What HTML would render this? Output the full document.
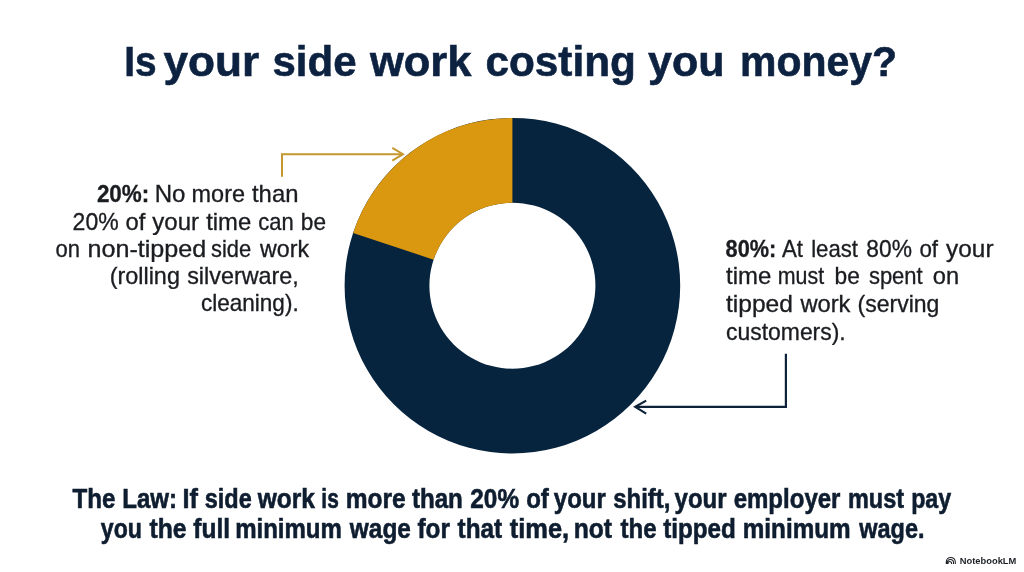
<!DOCTYPE html>
<html>
<head>
<meta charset="utf-8">
<style>
html,body{margin:0;padding:0;background:#fff;}
body{width:1024px;height:572px;overflow:hidden;font-family:"Liberation Sans",sans-serif;}
svg{display:block;}
text{font-family:"Liberation Sans",sans-serif;}
.t{fill:#0c2240;font-weight:700;stroke:#0c2240;stroke-width:0.6px;}
.l{fill:#1a1c20;stroke:#1a1c20;stroke-width:0.32px;}
.b{fill:#0e1d2f;font-weight:700;stroke:#0e1d2f;stroke-width:0.6px;}
.n{fill:#1c1f24;font-weight:700;}
</style>
</head>
<body>
<svg width="1024" height="572" viewBox="0 0 1024 572">
<defs><filter id="g" x="0" y="0" width="1024" height="572" filterUnits="userSpaceOnUse"><feOffset dx="0" dy="0"/></filter></defs>
<rect width="1024" height="572" fill="#ffffff"/>
<!-- donut -->
<path fill-rule="evenodd" d="M512.4 117.89999999999998 A167.8 167.8 0 1 1 512.39 117.89999999999998 Z M512.4 202.7 A83.0 83.0 0 1 0 512.41 202.7 Z" fill="#07243f"/>
<path d="M512.4 117.89999999999998 A167.8 167.8 0 0 0 353.09 233.01 L433.60 259.64 A83.0 83.0 0 0 1 512.4 202.7 Z" fill="#d9980f"/>
<!-- arrows -->
<path d="M282 176.7 V154.2 H402" fill="none" stroke="#c5982f" stroke-width="2"/>
<path d="M392.3 147.9 L403 154.2 L392.3 160.6" fill="none" stroke="#c5982f" stroke-width="2"/>
<path d="M785.9 353.8 V406.9 H636" fill="none" stroke="#0e2238" stroke-width="2.2"/>
<path d="M646.2 400.6 L635.2 406.9 L646.2 413.6" fill="none" stroke="#0e2238" stroke-width="2.2"/>
<!-- NotebookLM icon -->
<path d="M946.3 564.1 V561.9 A4.5 4.5 0 0 1 955.3 561.9 V564.1 M947.2 564.1 V562.6 A3.15 3.15 0 0 1 953.5 562.6 V564.1 M948 564.1 V563.3 A1.8 1.8 0 0 1 951.6 563.3 V564.1" fill="none" stroke="#1c1f24" stroke-width="1.05"/>
<g class="t" font-size="43.3" filter="url(#g)">
<text x="124.21" y="75.7" textLength="32.36" lengthAdjust="spacingAndGlyphs">Is</text>
<text x="163.50" y="75.7" textLength="95.75" lengthAdjust="spacingAndGlyphs">your</text>
<text x="272.53" y="75.7" textLength="84.02" lengthAdjust="spacingAndGlyphs">side</text>
<text x="369.91" y="75.7" textLength="101.57" lengthAdjust="spacingAndGlyphs">work</text>
<text x="485.42" y="75.7" textLength="150.57" lengthAdjust="spacingAndGlyphs">costing</text>
<text x="648.00" y="75.7" textLength="76.53" lengthAdjust="spacingAndGlyphs">you</text>
<text x="740.11" y="75.7" textLength="157.01" lengthAdjust="spacingAndGlyphs">money?</text>
</g>
<g class="l" font-size="23.2" filter="url(#g)">
<text x="96.90" y="202.3" textLength="52.37" lengthAdjust="spacingAndGlyphs" font-weight="700">20%:</text>
<text x="154.76" y="202.3" textLength="30.77" lengthAdjust="spacingAndGlyphs">No</text>
<text x="191.59" y="202.3" textLength="53.42" lengthAdjust="spacingAndGlyphs">more</text>
<text x="252.00" y="202.3" textLength="46.42" lengthAdjust="spacingAndGlyphs">than</text>
</g>
<g class="l" font-size="23.2" filter="url(#g)">
<text x="72.61" y="229.6" textLength="46.00" lengthAdjust="spacingAndGlyphs">20%</text>
<text x="125.60" y="229.6" textLength="19.83" lengthAdjust="spacingAndGlyphs">of</text>
<text x="152.30" y="229.6" textLength="46.71" lengthAdjust="spacingAndGlyphs">your</text>
<text x="206.20" y="229.6" textLength="45.02" lengthAdjust="spacingAndGlyphs">time</text>
<text x="258.20" y="229.6" textLength="35.45" lengthAdjust="spacingAndGlyphs">can</text>
<text x="300.82" y="229.6" textLength="25.15" lengthAdjust="spacingAndGlyphs">be</text>
</g>
<g class="l" font-size="23.2" filter="url(#g)">
<text x="55.50" y="256.5" textLength="24.45" lengthAdjust="spacingAndGlyphs">on</text>
<text x="87.52" y="256.5" textLength="118.75" lengthAdjust="spacingAndGlyphs">non-tipped</text>
<text x="211.00" y="256.5" textLength="40.15" lengthAdjust="spacingAndGlyphs">side</text>
<text x="260.00" y="256.5" textLength="48.99" lengthAdjust="spacingAndGlyphs">work</text>
</g>
<g class="l" font-size="23.2" filter="url(#g)">
<text x="109.69" y="283.6" textLength="70.21" lengthAdjust="spacingAndGlyphs">(rolling</text>
<text x="187.20" y="283.6" textLength="111.55" lengthAdjust="spacingAndGlyphs">silverware,</text>
</g>
<g class="l" font-size="23.2" filter="url(#g)">
<text x="200.90" y="310.9" textLength="97.80" lengthAdjust="spacingAndGlyphs">cleaning).</text>
</g>
<g class="l" font-size="23.2" filter="url(#g)">
<text x="725.60" y="256.8" textLength="50.71" lengthAdjust="spacingAndGlyphs" font-weight="700">80%:</text>
<text x="781.90" y="256.8" textLength="21.06" lengthAdjust="spacingAndGlyphs">At</text>
<text x="811.14" y="256.8" textLength="46.82" lengthAdjust="spacingAndGlyphs">least</text>
<text x="866.32" y="256.8" textLength="45.59" lengthAdjust="spacingAndGlyphs">80%</text>
<text x="919.40" y="256.8" textLength="18.66" lengthAdjust="spacingAndGlyphs">of</text>
<text x="946.10" y="256.8" textLength="47.41" lengthAdjust="spacingAndGlyphs">your</text>
</g>
<g class="l" font-size="23.2" filter="url(#g)">
<text x="726.00" y="284.3" textLength="45.22" lengthAdjust="spacingAndGlyphs">time</text>
<text x="777.78" y="284.3" textLength="46.31" lengthAdjust="spacingAndGlyphs">must</text>
<text x="834.62" y="284.3" textLength="25.26" lengthAdjust="spacingAndGlyphs">be</text>
<text x="868.90" y="284.3" textLength="53.77" lengthAdjust="spacingAndGlyphs">spent</text>
<text x="932.80" y="284.3" textLength="26.31" lengthAdjust="spacingAndGlyphs">on</text>
</g>
<g class="l" font-size="23.2" filter="url(#g)">
<text x="726.00" y="311.8" textLength="66.95" lengthAdjust="spacingAndGlyphs">tipped</text>
<text x="800.42" y="311.8" textLength="50.06" lengthAdjust="spacingAndGlyphs">work</text>
<text x="857.51" y="311.8" textLength="81.88" lengthAdjust="spacingAndGlyphs">(serving</text>
</g>
<g class="l" font-size="23.2" filter="url(#g)">
<text x="726.00" y="339.5" textLength="119.73" lengthAdjust="spacingAndGlyphs">customers).</text>
</g>
<g class="b" font-size="28.2" filter="url(#g)">
<text x="72.50" y="507.7" textLength="42.98" lengthAdjust="spacingAndGlyphs">The</text>
<text x="122.25" y="507.7" textLength="54.79" lengthAdjust="spacingAndGlyphs">Law:</text>
<text x="182.50" y="507.7" textLength="15.45" lengthAdjust="spacingAndGlyphs">If</text>
<text x="204.80" y="507.7" textLength="46.96" lengthAdjust="spacingAndGlyphs">side</text>
<text x="257.77" y="507.7" textLength="57.25" lengthAdjust="spacingAndGlyphs">work</text>
<text x="321.36" y="507.7" textLength="17.44" lengthAdjust="spacingAndGlyphs">is</text>
<text x="345.63" y="507.7" textLength="59.96" lengthAdjust="spacingAndGlyphs">more</text>
<text x="411.90" y="507.7" textLength="50.94" lengthAdjust="spacingAndGlyphs">than</text>
<text x="470.30" y="507.7" textLength="48.75" lengthAdjust="spacingAndGlyphs">20%</text>
<text x="526.15" y="507.7" textLength="22.73" lengthAdjust="spacingAndGlyphs">of</text>
<text x="553.80" y="507.7" textLength="51.97" lengthAdjust="spacingAndGlyphs">your</text>
<text x="613.30" y="507.7" textLength="57.05" lengthAdjust="spacingAndGlyphs">shift,</text>
<text x="674.60" y="507.7" textLength="51.97" lengthAdjust="spacingAndGlyphs">your</text>
<text x="733.65" y="507.7" textLength="106.83" lengthAdjust="spacingAndGlyphs">employer</text>
<text x="847.97" y="507.7" textLength="56.02" lengthAdjust="spacingAndGlyphs">must</text>
<text x="911.18" y="507.7" textLength="40.06" lengthAdjust="spacingAndGlyphs">pay</text>
</g>
<g class="b" font-size="28.2" filter="url(#g)">
<text x="100.80" y="537.7" textLength="41.10" lengthAdjust="spacingAndGlyphs">you</text>
<text x="149.50" y="537.7" textLength="37.09" lengthAdjust="spacingAndGlyphs">the</text>
<text x="193.30" y="537.7" textLength="36.69" lengthAdjust="spacingAndGlyphs">full</text>
<text x="235.15" y="537.7" textLength="106.76" lengthAdjust="spacingAndGlyphs">minimum</text>
<text x="349.87" y="537.7" textLength="61.02" lengthAdjust="spacingAndGlyphs">wage</text>
<text x="417.40" y="537.7" textLength="32.47" lengthAdjust="spacingAndGlyphs">for</text>
<text x="457.60" y="537.7" textLength="44.57" lengthAdjust="spacingAndGlyphs">that</text>
<text x="509.80" y="537.7" textLength="59.35" lengthAdjust="spacingAndGlyphs">time,</text>
<text x="573.63" y="537.7" textLength="38.34" lengthAdjust="spacingAndGlyphs">not</text>
<text x="620.50" y="537.7" textLength="36.08" lengthAdjust="spacingAndGlyphs">the</text>
<text x="663.20" y="537.7" textLength="72.65" lengthAdjust="spacingAndGlyphs">tipped</text>
<text x="742.74" y="537.7" textLength="107.98" lengthAdjust="spacingAndGlyphs">minimum</text>
<text x="859.33" y="537.7" textLength="65.19" lengthAdjust="spacingAndGlyphs">wage.</text>
</g>
<g class="n" font-size="9.5" filter="url(#g)">
<text x="959.80" y="563.9" textLength="56.52" lengthAdjust="spacingAndGlyphs">NotebookLM</text>
</g>
</svg>
</body>
</html>
